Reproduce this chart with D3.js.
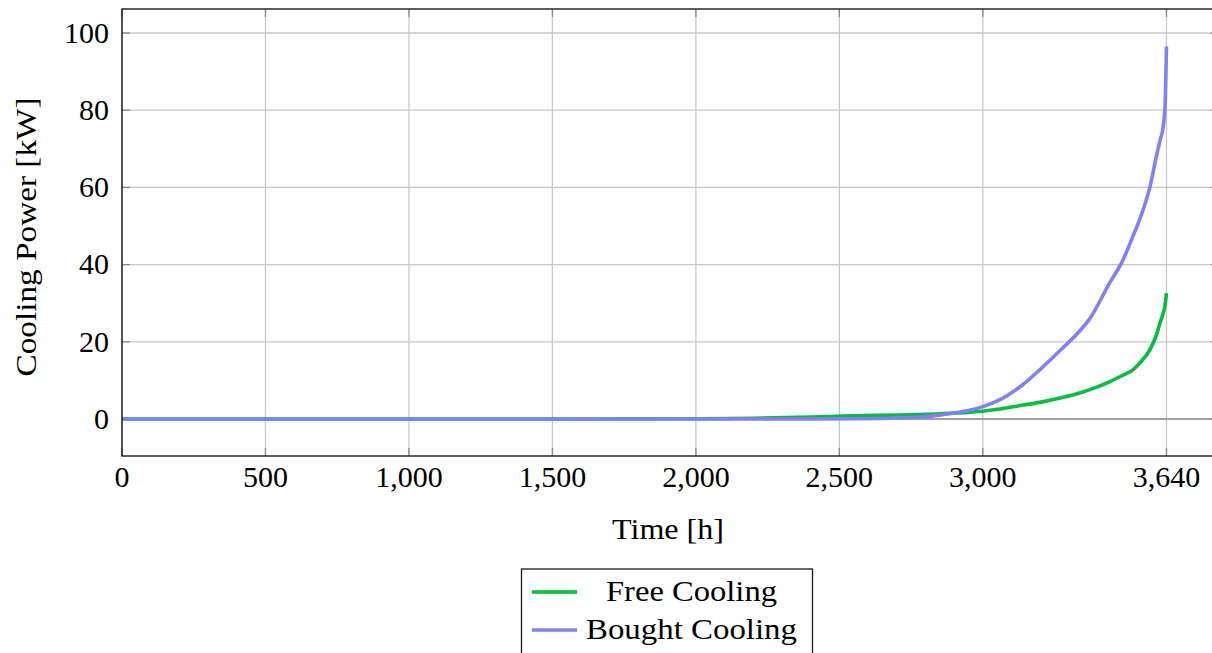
<!DOCTYPE html>
<html>
<head>
<meta charset="utf-8">
<script src="https://cdn.jsdelivr.net/npm/d3@7"></script>
<style>
  html, body { margin: 0; padding: 0; background: #fff; }
  svg { display: block; }
  text { font-family: "Liberation Serif", "Times New Roman", serif; fill: #000; }
</style>
</head>
<body>
<svg id="chart" width="1212" height="653"></svg>
<script>
// Operating hours (sorted duration curve) and cooling power in kW
const hours = [0, 500, 1000, 1500, 2000, 2200, 2400, 2537, 2711, 2769, 2850, 2886, 2950, 3000,
               3060, 3141, 3199, 3280, 3340, 3373, 3443, 3484, 3524, 3548, 3582, 3606, 3617,
               3629, 3635, 3640];
const freeCooling = [0, 0, 0, 0, 0.05, 0.2, 0.5, 0.8, 1.05, 1.15, 1.35, 1.5, 1.7, 2.0,
                     2.6, 3.6, 4.3, 5.6, 6.8, 7.6, 9.7, 11.2, 12.8, 14.6, 17.9, 22.0, 24.8,
                     27.5, 29.5, 32.6];
const boughtCooling = [0, 0, 0, 0, 0, 0, 0, 0.05, 0.25, 0.45, 1.0, 1.4, 2.2, 3.2,
                       5.0, 9.0, 12.8, 18.5, 23.0, 26.0, 35.4, 40.5, 47.5, 52.0, 60.0, 68.5, 72.0,
                       76.0, 81.0, 96.5];

const xTicks = [0, 500, 1000, 1500, 2000, 2500, 3000, 3640];
const yTicks = [0, 20, 40, 60, 80, 100];

const seriesNames = ["Free Cooling", "Bought Cooling"];
const seriesColors = ["#00bf40", "#8080ff"];

const svg = d3.select("#chart");

const plot = { left: 122, right: 1218.7, top: 9, bottom: 456 };

const x = d3.scaleLinear().domain([0, 3822]).range([plot.left, plot.right]);
const y = d3.scaleLinear().domain([-9.59, 106.22]).range([plot.bottom, plot.top]);

const gridColor = "#c8c8c8";
const tickColor = "#8a8a8a";
const tickLen = 8;

// Grid lines
const grid = svg.append("g");
grid.selectAll("line.vx").data(xTicks).join("line")
  .attr("x1", d => x(d)).attr("x2", d => x(d))
  .attr("y1", plot.top).attr("y2", plot.bottom)
  .attr("stroke", gridColor).attr("stroke-width", 1.3);
grid.selectAll("line.hy").data(yTicks.filter(d => d !== 0)).join("line")
  .attr("x1", plot.left).attr("x2", plot.right)
  .attr("y1", d => y(d)).attr("y2", d => y(d))
  .attr("stroke", gridColor).attr("stroke-width", 1.3);

// Zero reference line
svg.append("line")
  .attr("x1", plot.left).attr("x2", plot.right)
  .attr("y1", y(0)).attr("y2", y(0))
  .attr("stroke", "#a0a0a0").attr("stroke-width", 2.2);

// Inner tick marks on all four sides
const ticks = svg.append("g").attr("stroke", tickColor).attr("stroke-width", 1.3);
xTicks.forEach(t => {
  ticks.append("line").attr("x1", x(t)).attr("x2", x(t))
    .attr("y1", plot.bottom).attr("y2", plot.bottom - tickLen);
  ticks.append("line").attr("x1", x(t)).attr("x2", x(t))
    .attr("y1", plot.top).attr("y2", plot.top + tickLen);
});
yTicks.forEach(t => {
  ticks.append("line").attr("x1", plot.left).attr("x2", plot.left + tickLen)
    .attr("y1", y(t)).attr("y2", y(t));
  ticks.append("line").attr("x1", plot.right).attr("x2", plot.right - tickLen)
    .attr("y1", y(t)).attr("y2", y(t));
});

// Curves
svg.append("clipPath").attr("id", "plotClip")
  .append("rect").attr("x", plot.left).attr("y", plot.top)
  .attr("width", plot.right - plot.left).attr("height", plot.bottom - plot.top);

const line = d3.line().curve(d3.curveMonotoneX).x(d => x(d[0])).y(d => y(d[1]));
const series = [freeCooling, boughtCooling];
series.forEach((vals, i) => {
  svg.append("path")
    .datum(hours.map((h, j) => [h, vals[j]]))
    .attr("clip-path", "url(#plotClip)")
    .attr("fill", "none")
    .attr("stroke", seriesColors[i])
    .attr("stroke-width", 3.6)
    .attr("stroke-linejoin", "round")
    .attr("d", line);
});

// Frame
svg.append("rect")
  .attr("x", plot.left).attr("y", plot.top)
  .attr("width", plot.right - plot.left).attr("height", plot.bottom - plot.top)
  .attr("fill", "none").attr("stroke", "#1a1a1a").attr("stroke-width", 1.4);

// Tick labels
const fmt = d3.format(",");
svg.append("g").selectAll("text").data(xTicks).join("text")
  .attr("x", d => x(d)).attr("y", 487)
  .attr("text-anchor", "middle")
  .style("font-size", "30px")
  .text(d => fmt(d));

svg.append("g").selectAll("text").data(yTicks).join("text")
  .attr("x", 109).attr("y", d => y(d) + 9.8)
  .attr("text-anchor", "end")
  .style("font-size", "30px")
  .text(d => fmt(d));

// Axis titles
svg.append("text")
  .attr("x", 668).attr("y", 539)
  .attr("text-anchor", "middle")
  .style("font-size", "30px")
  .attr("textLength", 112).attr("lengthAdjust", "spacingAndGlyphs")
  .text("Time [h]");

svg.append("text")
  .attr("transform", "translate(36,237) rotate(-90)")
  .attr("text-anchor", "middle")
  .style("font-size", "30px")
  .attr("textLength", 279).attr("lengthAdjust", "spacingAndGlyphs")
  .text("Cooling Power [kW]");

// Legend
const legend = svg.append("g");
legend.append("rect")
  .attr("x", 521.5).attr("y", 569).attr("width", 291).attr("height", 120)
  .attr("fill", "#fff").attr("stroke", "#1a1a1a").attr("stroke-width", 1.3);
const legendWidths = [171, 211];
seriesNames.forEach((name, i) => {
  const rowY = 592 + i * 38;
  legend.append("line")
    .attr("x1", 532).attr("x2", 577).attr("y1", rowY).attr("y2", rowY)
    .attr("stroke", seriesColors[i]).attr("stroke-width", 3.6);
  legend.append("text")
    .attr("x", 691.5).attr("y", rowY + 9)
    .attr("text-anchor", "middle")
    .style("font-size", "30px")
    .attr("textLength", legendWidths[i]).attr("lengthAdjust", "spacingAndGlyphs")
    .text(name);
});
</script>
</body>
</html>
